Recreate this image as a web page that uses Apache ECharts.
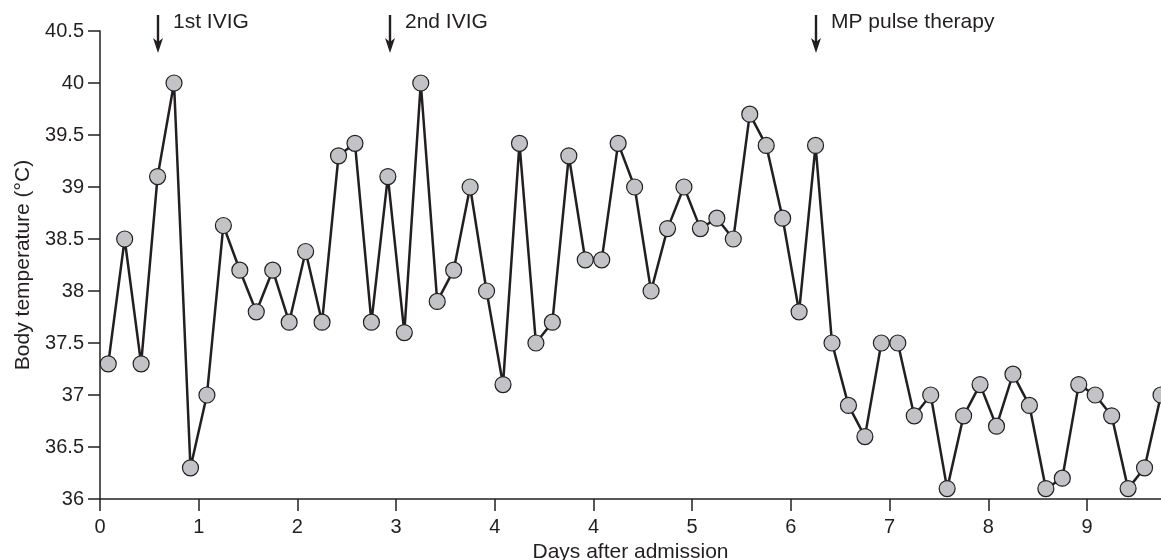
<!DOCTYPE html>
<html>
<head>
<meta charset="utf-8">
<script src="https://cdn.jsdelivr.net/npm/echarts@6/dist/echarts.min.js"></script>
<style>
  html, body { margin: 0; padding: 0; background: #fff; }
  #chart { width: 1161px; height: 560px; }
</style>
</head>
<body>
<div id="chart"></div>
<script>
  // measurement times (hours after admission), one reading every 4 h
  const hours = [
    2, 6, 10, 14, 18, 22, 26, 30, 34, 38, 42, 46, 50, 54, 58, 62, 66, 70, 74, 78,
    82, 86, 90, 94, 98, 102, 106, 110, 114, 118, 122, 126, 130, 134, 138, 142, 146, 150, 154, 158,
    162, 166, 170, 174, 178, 182, 186, 190, 194, 198, 202, 206, 210, 214, 218, 222, 226, 230, 234, 238,
    242, 246, 250, 254, 258
  ];
  const temps = [
    37.3, 38.5, 37.3, 39.1, 40.0, 36.3, 37.0, 38.63, 38.2, 37.8, 38.2, 37.7, 38.38, 37.7, 39.3, 39.42, 37.7, 39.1, 37.6, 40.0,
    37.9, 38.2, 39.0, 38.0, 37.1, 39.42, 37.5, 37.7, 39.3, 38.3, 38.3, 39.42, 39.0, 38.0, 38.6, 39.0, 38.6, 38.7, 38.5, 39.7,
    39.4, 38.7, 37.8, 39.4, 37.5, 36.9, 36.6, 37.5, 37.5, 36.8, 37.0, 36.1, 36.8, 37.1, 36.7, 37.2, 36.9, 36.1, 36.2, 37.1,
    37.0, 36.8, 36.1, 36.3, 37.0
  ];
  // day tick labels as printed on the original figure
  const dayLabels = ['0', '1', '2', '3', '4', '4', '5', '6', '7', '8', '9'];
  // treatments
  const eventNames = ['1st IVIG', '2nd IVIG', 'MP pulse therapy'];
  const eventHours = [14, 70.5, 174];

  const ink = '#231f20';
  const font = '"Liberation Sans", Arial, Helvetica, sans-serif';

  const seriesData = hours.map((h, i) => [h, temps[i]]);

  var myChart = echarts.init(document.getElementById('chart'));

  const option = {
    animation: false,
    textStyle: { fontFamily: font },
    grid: { left: 100, right: 0, top: 31, bottom: 61, containLabel: false, outerBoundsMode: 'none' },
    xAxis: {
      type: 'value',
      min: 0,
      max: 258,
      interval: 24,
      name: 'Days after admission',
      nameLocation: 'middle',
      nameGap: 41,
      nameTextStyle: { color: ink, fontSize: 21, fontFamily: font },
      splitLine: { show: false },
      axisLine: { lineStyle: { color: ink, width: 1.5 } },
      axisTick: { length: 12, lineStyle: { color: ink, width: 1.5 } },
      axisLabel: {
        color: ink,
        fontSize: 20,
        margin: 18,
        showMaxLabel: false,
        formatter: (v) => {
          const d = v / 24;
          return Number.isInteger(d) && dayLabels[d] !== undefined ? dayLabels[d] : '';
        }
      }
    },
    yAxis: {
      type: 'value',
      min: 36,
      max: 40.5,
      interval: 0.5,
      name: 'Body temperature (\u00b0C)',
      nameLocation: 'middle',
      nameGap: 66,
      nameTextStyle: { color: ink, fontSize: 21, fontFamily: font },
      splitLine: { show: false },
      axisLine: { show: true, lineStyle: { color: ink, width: 1.5 } },
      axisTick: { show: true, length: 12, lineStyle: { color: ink, width: 1.5 } },
      axisLabel: { color: ink, fontSize: 20, margin: 16 }
    },
    series: [
      {
        type: 'line',
        data: seriesData,
        clip: false,
        symbol: 'circle',
        symbolSize: 16,
        lineStyle: { color: ink, width: 2.5 },
        itemStyle: { color: '#c2c3c6', borderColor: ink, borderWidth: 1.2 }
      }
    ]
  };

  option && myChart.setOption(option);

  // treatment arrows above the plot, placed through the axis scales
  const drawEvents = () => {
    const elements = [];
    eventHours.forEach((h, i) => {
      const p = myChart.convertToPixel({ gridIndex: 0 }, [h, 40.5]);
      const x = Math.round(p[0]);
      const top = p[1] - 16;
      const tip = p[1] + 22;
      elements.push({
        type: 'line',
        silent: true,
        shape: { x1: x, y1: top, x2: x, y2: tip - 8 },
        style: { stroke: ink, lineWidth: 2.4 }
      });
      elements.push({
        type: 'polygon',
        silent: true,
        shape: { points: [[x - 5, tip - 15], [x, tip - 11], [x + 5, tip - 15], [x, tip]] },
        style: { fill: ink }
      });
      elements.push({
        type: 'text',
        silent: true,
        x: x + 15,
        y: p[1] - 9,
        style: {
          text: eventNames[i],
          fill: ink,
          font: '21px ' + font,
          verticalAlign: 'middle',
          align: 'left'
        }
      });
    });
    myChart.setOption({ graphic: elements });
  };
  drawEvents();
</script>
</body>
</html>
